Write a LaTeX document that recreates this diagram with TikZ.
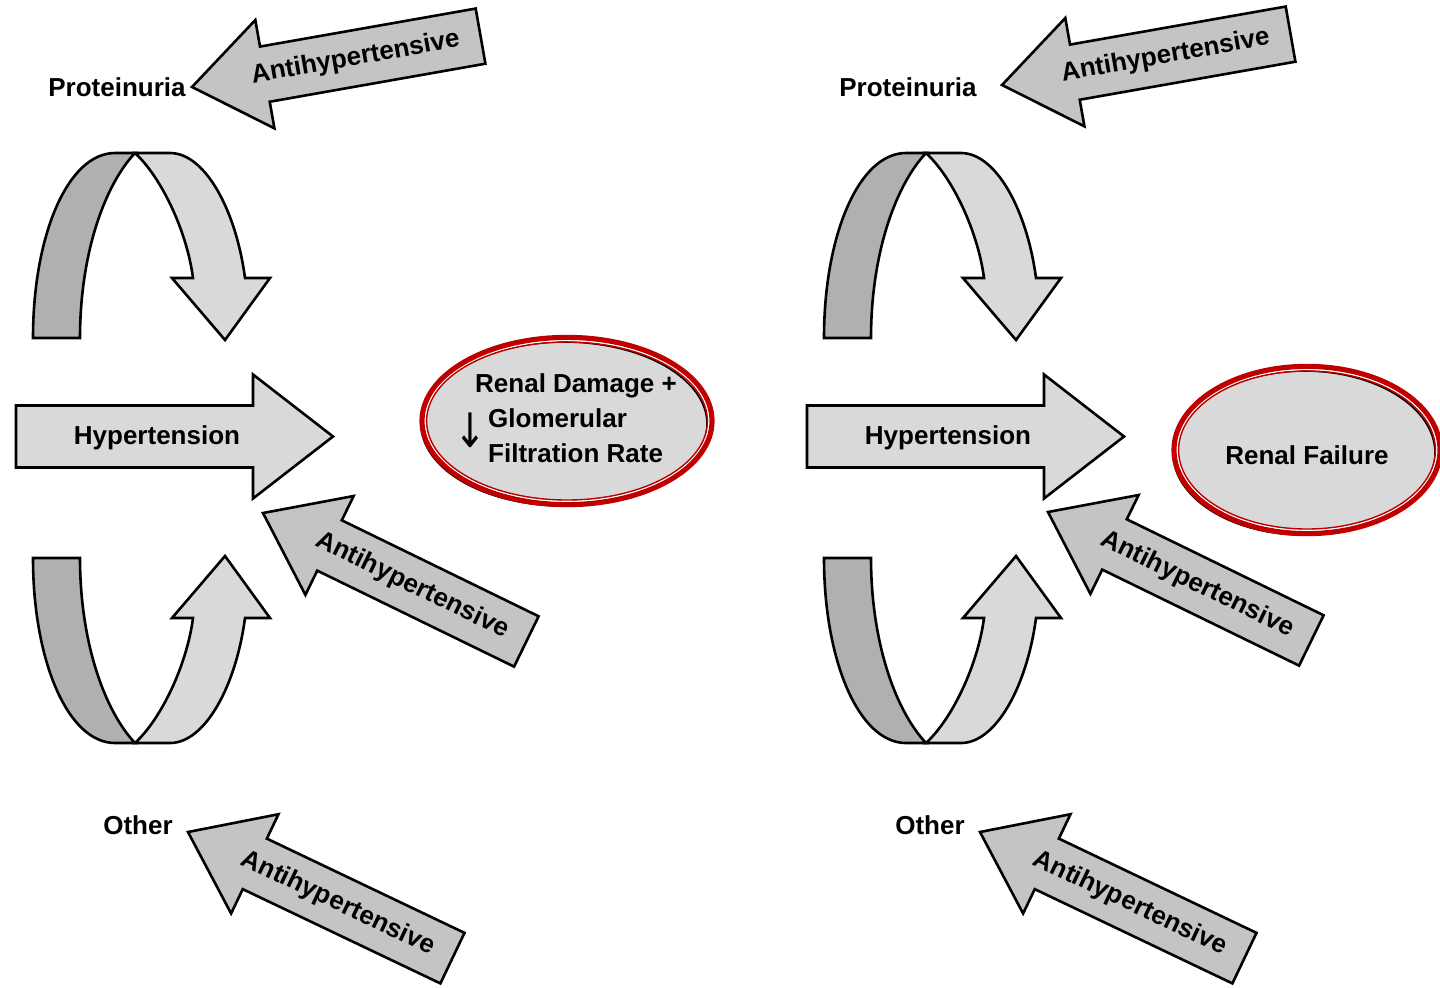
\documentclass[tikz,border=0pt]{standalone}
\usepackage{fontspec}
\setmainfont{Liberation Sans}
\newfontfamily\arrowfont{DejaVu Sans}
\usetikzlibrary{shapes.geometric}
\definecolor{lightfill}{RGB}{217,217,217}
\definecolor{midfill}{RGB}{196,196,196}
\definecolor{darkfill}{RGB}{176,176,176}
\definecolor{ringred}{RGB}{192,0,0}
\tikzset{
  outline/.style={draw=black, line width=1.3pt, line join=miter},
  txt/.style={font=\fontsize{13}{17.5}\selectfont\bfseries, inner sep=0pt},
  pics/antiarrow/.style={code={
    \draw[outline, fill=midfill] (0,0) -- (74,-55) -- (74,-28) -- (293,-28) -- (293,28) -- (74,28) -- (74,55) -- cycle;
    \node[txt, transform shape] (-text) at (166,0) {Antihypertensive};
  }},
  pics/hyperarrow/.style={code={
    \draw[outline, fill=lightfill] (0,-31) -- (237,-31) -- (237,-62) -- (317,0) -- (237,62) -- (237,31) -- (0,31) -- cycle;
    \node[txt] (-text) at (141,1) {Hypertension};
  }},
  pics/loop/.style={code={
    \draw[outline, fill=darkfill] (33,338) .. controls (33,235) and (68,153) .. (115,153) -- (135,153) .. controls (104,186) and (80,255) .. (80,338) -- cycle;
    \draw[outline, fill=lightfill] (135,153) -- (170,153) .. controls (205,153) and (236,210) .. (245,278) -- (270,278) -- (225,340) -- (172,278) -- (193,278) .. controls (187,232) and (162,178) .. (135,153) -- cycle;
  }}
}
\begin{document}
\begin{tikzpicture}[x=0.5pt, y=-0.5pt]
\useasboundingbox (0,0) rectangle (1440,987);

% left panel
\pic (loopTL) at (0,0) {loop};
\pic[yscale=-1] (loopBL) at (0,896) {loop};
\pic (hyperL) at (16,436.5) {hyperarrow};
\pic[rotate=10] (antiTL) at (192,87) {antiarrow};
\pic[rotate=-26] (antiML) at (263,513) {antiarrow};
\pic[rotate=-25.5] (antiBL) at (188,832) {antiarrow};
\node[txt] (protL) at (117,87) {Proteinuria};
\node[txt] (otherL) at (138,825) {Other};

\node[ellipse, fill=lightfill, minimum width=146pt, minimum height=84pt, inner sep=0pt] (damage) at (567,421) {};
\draw[black, line width=0.8pt] ([shift={(-3,3)}]damage.center) ellipse [x radius=71.5pt, y radius=41pt];
\draw[ringred, line width=2.6pt] (damage.center) ellipse [x radius=72.5pt, y radius=41.8pt];
\draw[white, line width=0.6pt] (damage.center) ellipse [x radius=70.8pt, y radius=40.1pt];
\draw[ringred, line width=0.7pt] (damage.center) ellipse [x radius=70.2pt, y radius=39.5pt];
\node[txt, align=left] (damagetxt) at (576,418) {Renal Damage +\\\hspace*{6.5pt}Glomerular\\\hspace*{6.5pt}Filtration Rate};
\node[font=\arrowfont\fontsize{19}{19}\selectfont, inner sep=0pt, yscale=1.25] (gfrdown) at (470,430) {↓};

% right panel
\pic (loopTR) at (791,0) {loop};
\pic[yscale=-1] (loopBR) at (791,896) {loop};
\pic (hyperR) at (807,436.5) {hyperarrow};
\pic[rotate=10] (antiTR) at (1002,85) {antiarrow};
\pic[rotate=-26] (antiMR) at (1048,512) {antiarrow};
\pic[rotate=-25.5] (antiBR) at (980,832) {antiarrow};
\node[txt] (protR) at (908,87) {Proteinuria};
\node[txt] (otherR) at (930,825) {Other};

\node[ellipse, fill=lightfill, minimum width=132pt, minimum height=83pt, inner sep=0pt] (failure) at (1307,450) {};
\draw[black, line width=0.8pt] ([shift={(-3,3)}]failure.center) ellipse [x radius=65.5pt, y radius=41pt];
\draw[ringred, line width=2.6pt] (failure.center) ellipse [x radius=66.5pt, y radius=41.8pt];
\draw[white, line width=0.6pt] (failure.center) ellipse [x radius=64.8pt, y radius=40.1pt];
\draw[ringred, line width=0.7pt] (failure.center) ellipse [x radius=64.2pt, y radius=39.5pt];
\node[txt] (failuretxt) at (1307,455) {Renal Failure};
\end{tikzpicture}
\end{document}
